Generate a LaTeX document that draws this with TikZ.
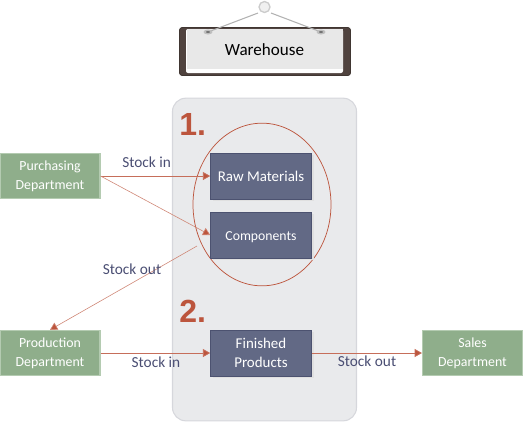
\documentclass[tikz,border=0pt]{standalone}
\usepackage{fontspec}
\setmainfont{Carlito}
\newfontfamily\numfont{Liberation Sans}
\usetikzlibrary{arrows.meta,shapes.geometric}
\definecolor{rust}{HTML}{BC553D}
\definecolor{slatebox}{HTML}{626985}
\definecolor{slateline}{HTML}{4C5270}
\definecolor{greenbox}{HTML}{8FAE8B}
\definecolor{greenline}{HTML}{B4CBB1}
\definecolor{panelgray}{HTML}{E9EAEC}
\definecolor{panelline}{HTML}{D6D7DC}
\definecolor{labeltext}{HTML}{4A4E73}
\definecolor{frame}{HTML}{50433F}
\tikzset{
 x=0.75pt,y=-0.75pt,
 dept/.style={draw=greenline,line width=0.8pt,fill=greenbox,text=white,minimum width=75pt,minimum height=34pt,inner sep=0pt,align=center,font=\fontsize{10.4}{14}\selectfont},
 store/.style={draw=slateline,line width=0.7pt,fill=slatebox,text=white,minimum width=75.5pt,minimum height=34.5pt,inner sep=0pt,align=center,font=\fontsize{11.2}{14}\selectfont},
 oneline/.style={text height=9pt,text depth=1.5pt},
 flowlabel/.style={text=labeltext,inner sep=0pt,font=\fontsize{11.5}{12}\selectfont},
 flow/.style={draw=rust!85,line width=0.6pt,-{Triangle[length=5.5pt,width=6pt,fill=rust]}},
 flowthin/.style={draw=rust!70,line width=0.45pt,-{Triangle[length=5.5pt,width=6pt,fill=rust]}},
 bignum/.style={text=rust,inner sep=0pt,font=\fontsize{24}{28}\selectfont\numfont\bfseries},
}
\begin{document}
\begin{tikzpicture}
\useasboundingbox (0,0) rectangle (523,422);
% sign
\draw[fill=frame,draw=frame!80!black,line width=0.6pt,rounded corners=2pt] (179.5,27.5) rectangle (350.5,75.5);
\fill[white,rounded corners=1.5pt] (186,29) rectangle (343,73);
\fill[black!9] (186.5,29) rectangle (342.5,69);
\draw[black!30,line width=0.8pt] (258,13) -- (208,32);
\draw[black!30,line width=0.8pt] (271,13) -- (321,32);
\fill[black!25] (208,32) ellipse (4.5 and 2.5);
\fill[black!25] (321,32) ellipse (4.5 and 2.5);
\fill[black!55] (208,32) ellipse (2 and 1);
\fill[black!55] (321,32) ellipse (2 and 1);
\draw[fill=black!6,draw=black!20,line width=1pt] (264.5,7) circle (5.5);
\node[inner sep=0pt,font=\fontsize{12.8}{14}\selectfont] (title) at (264.5,50) {Warehouse};
% label under panel
\node[flowlabel,anchor=west] (lblA) at (122,162) {Stock in};
% panel
\node[draw=panelline,line width=0.8pt,fill=panelgray,rounded corners=10pt,minimum width=138pt,minimum height=242pt,inner sep=0pt] (panel) at (264.5,259.5) {};
\node[bignum,anchor=base west] (one) at (179,135) {1.};
\node[bignum,anchor=base west] (two) at (179,322) {2.};
\node[draw=rust,line width=0.55pt,ellipse,minimum width=103.5pt,minimum height=122pt,inner sep=0pt] (group) at (262,204.5) {};
% boxes
\fill[black!12] (213,155) rectangle (314,201);
\fill[black!12] (213,214) rectangle (314,260);
\fill[black!12] (213,332) rectangle (314,378);
\node[store,oneline] (raw) at (261,176) {Raw Materials};
\node[store,oneline,font=\fontsize{10.3}{14}\selectfont] (comp) at (261,235) {Components};
\node[store] (fin) at (261,353) {Finished\\Products};
\node[dept] (purch) at (50,176) {Purchasing\\Department};
\node[dept] (prod) at (50,353) {Production\\Department};
\node[dept] (sales) at (472.5,353) {Sales\\Department};
\coordinate (outstart) at (197,246);
\draw[flow] (purch.east) -- (raw.west);
\draw[flowthin] (purch.east) -- (comp.west);
\draw[flowthin] (outstart) -- (prod.north);
\draw[flow] (prod.east) -- (fin.west);
\draw[flow] (fin.east) -- (sales.west);
\node[flowlabel] (lblB) at (132,269) {Stock out};
\node[flowlabel] (lblC) at (156,362) {Stock in};
\node[flowlabel] (lblD) at (367,361) {Stock out};
\end{tikzpicture}
\end{document}
